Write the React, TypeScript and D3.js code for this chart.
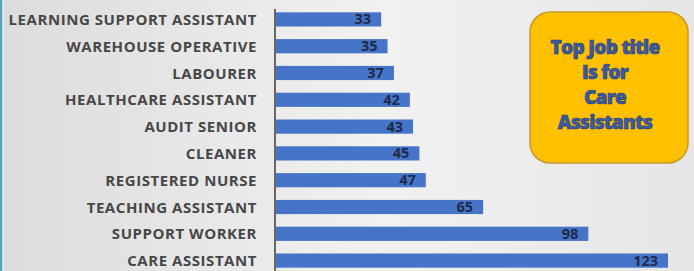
import React from "react";
import * as d3 from "d3";

const categories = [
  "LEARNING SUPPORT ASSISTANT",
  "WAREHOUSE OPERATIVE",
  "LABOURER",
  "HEALTHCARE ASSISTANT",
  "AUDIT SENIOR",
  "CLEANER",
  "REGISTERED NURSE",
  "TEACHING ASSISTANT",
  "SUPPORT WORKER",
  "CARE ASSISTANT",
];
const values = [33, 35, 37, 42, 43, 45, 47, 65, 98, 123];
const calloutLines = ["Top Job title", "Is for", "Care", "Assistants"];

const W = 694;
const H = 271;

export default function App() {
  const x = d3.scaleLinear().domain([0, 123]).range([276, 668]);
  const y = d3.scaleBand<string>().domain(categories).range([6, 274]).paddingInner(0.47).paddingOuter(0.235);
  const bw = y.bandwidth();
  return (
    <svg width={W} height={H} style={{ position: "absolute", left: 0, top: 0, display: "block" }}>
      <defs>
        <linearGradient id="bg" x1="0" y1="0" x2="1" y2="0">
          <stop offset="0" stopColor="#dcdcdc" />
          <stop offset="0.55" stopColor="#f1f1f1" />
          <stop offset="1" stopColor="#e6e6e6" />
        </linearGradient>
      </defs>
      <rect x={0} y={0} width={W} height={H} fill="url(#bg)" />
      <rect x={0} y={0} width={2.5} height={H} fill="#5ba2c2" />
      <rect x={2.5} y={0} width={1} height={H} fill="#f6f6f6" />
      {categories.map((c, i) => (
        <g key={c}>
          <rect x={x(0)} y={y(c)} width={x(values[i]) - x(0)} height={bw} fill="#4674c8" />
          <text
            x={x(values[i]) - 10}
            y={(y(c) as number) + bw / 2 + 5}
            textAnchor="end"
            fontFamily="Open Sans, sans-serif"
            fontWeight="bold"
            fontSize={14.5}
            fill="#1c2a4a"
          >
            {values[i]}
          </text>
          <text
            x={257}
            y={(y(c) as number) + bw / 2 + 5.5}
            textAnchor="end"
            fontFamily="Open Sans, sans-serif"
            fontWeight="bold"
            fontSize={15}
            letterSpacing={0.55}
            fill="#474747"
          >
            {c}
          </text>
        </g>
      ))}
      <line x1={275} x2={275} y1={9} y2={H} stroke="#3a3a3a" strokeWidth={1.5} />
      <rect x={530} y={12} width={158} height={151} rx={20} ry={20} fill="#ffc000" stroke="#c59a2a" strokeWidth={1.5} />
      {calloutLines.map((t, i) => (
        <text
          key={t}
          x={605}
          y={54 + i * 25}
          textAnchor="middle"
          fontFamily="Open Sans, sans-serif"
          fontWeight={800}
          fontSize={19}
          letterSpacing={-0.7}
          fill="#3a5aa4"
          stroke="#2a3c6c"
          strokeWidth={0.6}
        >
          {t}
        </text>
      ))}
    </svg>
  );
}
